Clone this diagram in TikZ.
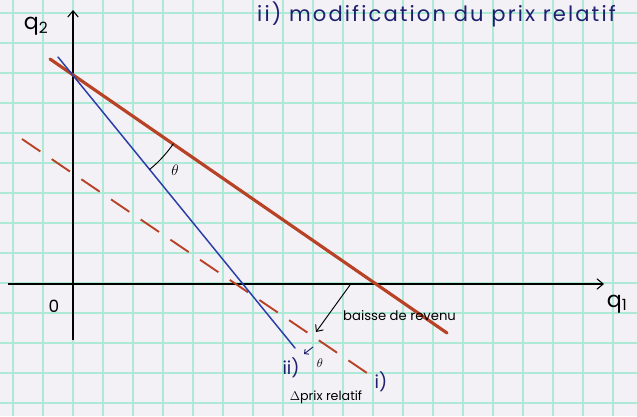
\documentclass[tikz,border=0pt]{standalone}
\usepackage{fontspec}
\setmainfont{Poppins}
\newfontfamily\widehand[LetterSpace=10]{Poppins}
\usetikzlibrary{arrows.meta, positioning, calc}
\definecolor{gridcyan}{RGB}{172,234,214}
\definecolor{paper}{RGB}{244,241,246}
\definecolor{pencilred}{RGB}{184,66,38}
\definecolor{penblue}{RGB}{42,62,170}
\definecolor{inkblue}{RGB}{30,32,110}

\begin{document}
\begin{tikzpicture}[
    x=0.03333cm, y=-0.03333cm,
    axis/.style={-{Straight Barb[length=6pt, width=10pt]}, line width=1pt, black},
    budget/.style={pencilred, line width=3pt, line cap=round},
    shifted/.style={pencilred, line width=1.8pt, dash pattern=on 21pt off 13pt},
    rotated/.style={penblue, line width=1.4pt, line cap=round},
    pointer/.style={-{Straight Barb[length=5pt, width=9pt]}, line width=0.9pt},
    tag/.style={inner sep=0pt, font=\fontsize{16}{18}\selectfont},
    bluetag/.style={tag, inkblue, font=\fontsize{17}{19}\selectfont}
]
\useasboundingbox (0,0) rectangle (637,416);

% squared paper
\fill[paper] (0,0) rectangle (637,416);
\foreach \g in {13,43,...,613} \draw[gridcyan, line width=1.4pt] (\g,0) -- (\g,416);
\foreach \g in {13,43,...,403} \draw[gridcyan, line width=1.4pt] (0,\g) -- (637,\g);

% Axes
\coordinate (ybot) at (73,340);
\coordinate (ytop) at (73,10);
\coordinate (xleft) at (8,284);
\coordinate (xright) at (604,284);
\draw[axis] (ybot) -- (ytop);
\draw[axis] (xleft) -- (xright);
\node[tag, font=\fontsize{21}{23}\selectfont] (q2) at (36,26) {q\textsubscript{2}};
\node[tag, font=\fontsize{21}{23}\selectfont] (q1) at (617,304) {q\textsubscript{1}};
\node[tag] (zero) at (54,306) {0};

% Budget lines
\coordinate (pivot) at (72,74);
\coordinate (redA) at (50,59);
\coordinate (redB) at (447,333);
\coordinate (blueA) at (58,57);
\coordinate (blueB) at (295,348);
\coordinate (dashA) at (22,139);
\coordinate (dashB) at (367,373);
\draw[shifted] (dashA) -- (dashB);
\draw[budget] (redA) -- (redB);
\draw[rotated] (blueA) -- (blueB);

% Angle between the two lines
\draw[line width=0.9pt] ($(pivot)+(-50.9:4.1cm)$) arc[start angle=-50.9, end angle=-34.5, radius=4.1cm];
\node[tag, font=\fontsize{15}{17}\selectfont] (theta) at (175,170) {$\theta$};

% Annotations
\node[inkblue, anchor=west, inner sep=0pt, font=\widehand\fontsize{20}{23}\selectfont] (title) at (257,14) {ii) modification du prix relatif};
\coordinate (dropstart) at (350,285);
\coordinate (droptip) at (316,332);
\draw[pointer] (dropstart) -- (droptip);
\node[tag, anchor=west, font=\fontsize{12.5}{14}\selectfont] (revenu) at (343,316) {baisse de revenu};

\node[bluetag] (two) at (291,368) {ii)};
\node[tag, font=\fontsize{13}{15}\selectfont] (theta2) at (320,363) {$\theta$};
\coordinate (tickstart) at (313,347);
\coordinate (ticktip) at (304,354);
\draw[pointer, inkblue, -{Straight Barb[length=3pt, width=6pt]}] (tickstart) -- (ticktip);
\node[bluetag] (one) at (381,382) {i)};
\node[tag, font=\fontsize{12}{14}\selectfont] (prix) at (326,397) {$\Delta$prix relatif};

\end{tikzpicture}
\end{document}
